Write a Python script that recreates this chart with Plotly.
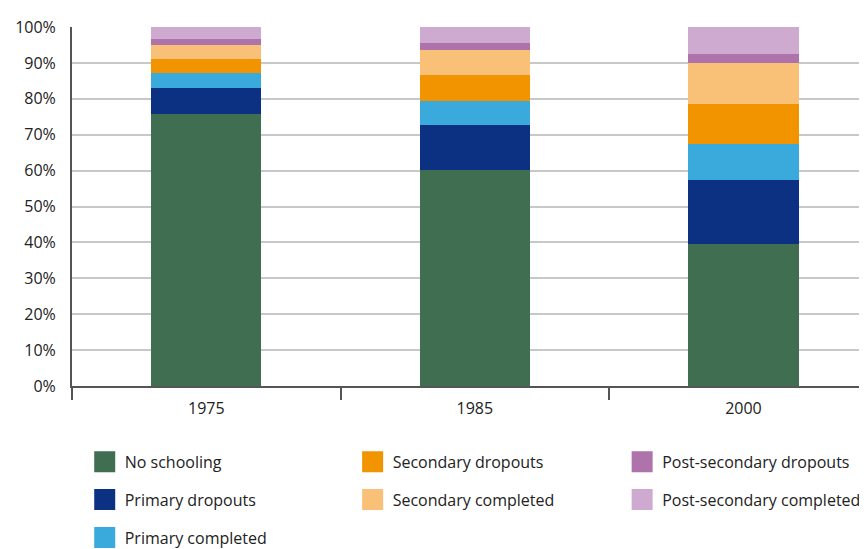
import plotly.graph_objects as go

years = ["1975", "1985", "2000"]

no_schooling = [75.8, 60.2, 39.6]
primary_dropouts = [7.2, 12.5, 17.8]
primary_completed = [4.1, 6.6, 10.1]
secondary_dropouts = [4.0, 7.3, 11.1]
secondary_completed = [3.9, 7.0, 11.4]
postsec_dropouts = [1.7, 1.9, 2.5]
postsec_completed = [3.3, 4.5, 7.5]

series = [
    ("No schooling", no_schooling, "#3f6e50", "legend"),
    ("Primary dropouts", primary_dropouts, "#0c3182", "legend"),
    ("Primary completed", primary_completed, "#3aa9dc", "legend"),
    ("Secondary dropouts", secondary_dropouts, "#f29400", "legend2"),
    ("Secondary completed", secondary_completed, "#f9c077", "legend2"),
    ("Post-secondary dropouts", postsec_dropouts, "#ae73ab", "legend3"),
    ("Post-secondary completed", postsec_completed, "#cfaad0", "legend3"),
]

fig = go.Figure()
for name, vals, color, leg in series:
    fig.add_trace(go.Bar(
        x=years, y=vals, name=name,
        marker=dict(color=color, line=dict(width=0)),
        legendgroup=name, showlegend=False,
    ))
    # legend-only entry so the swatch can be a bigger square
    fig.add_trace(go.Scatter(
        x=[None], y=[None], mode="markers", name=name,
        marker=dict(symbol="square", size=16, color=color,
                    line=dict(color=color, width=5)),
        legend=leg, legendgroup=name,
    ))

font = "Open Sans, Noto Sans, sans-serif"
leg_common = dict(
    orientation="v", yanchor="top", y=-0.164,
    xanchor="left", font=dict(family=font, size=16, color="#222"),
    tracegroupgap=14, bgcolor="rgba(0,0,0,0)", itemsizing="trace",
)

# page body has an 8px margin, so the figure is sized to the visible area
fig.update_layout(
    width=859, height=541,
    barmode="stack", bargap=0.59,
    plot_bgcolor="white", paper_bgcolor="white",
    margin=dict(l=64, r=0, t=19, b=163, autoexpand=False),
    font=dict(family=font, size=16, color="#222"),
    legend=dict(x=0.016, **leg_common),
    legend2=dict(x=0.353, **leg_common),
    legend3=dict(x=0.692, **leg_common),
    xaxis=dict(
        type="category", range=[-0.5, 2.46],
        showline=True, linecolor="#555", linewidth=1.5,
        ticks="outside", tickson="boundaries", ticklen=12,
        tickcolor="#555", tickwidth=1.5, ticklabelstandoff=7,
        showgrid=False, tickfont=dict(size=16),
    ),
    yaxis=dict(
        range=[0, 100], dtick=10, ticksuffix="%",
        showgrid=True, gridcolor="#c8c8c8", gridwidth=1.5,
        showline=True, linecolor="#555", linewidth=2,
        zeroline=False, ticks="", ticklabelstandoff=11,
        tickfont=dict(size=16),
    ),
)

fig.write_html("out.html")
